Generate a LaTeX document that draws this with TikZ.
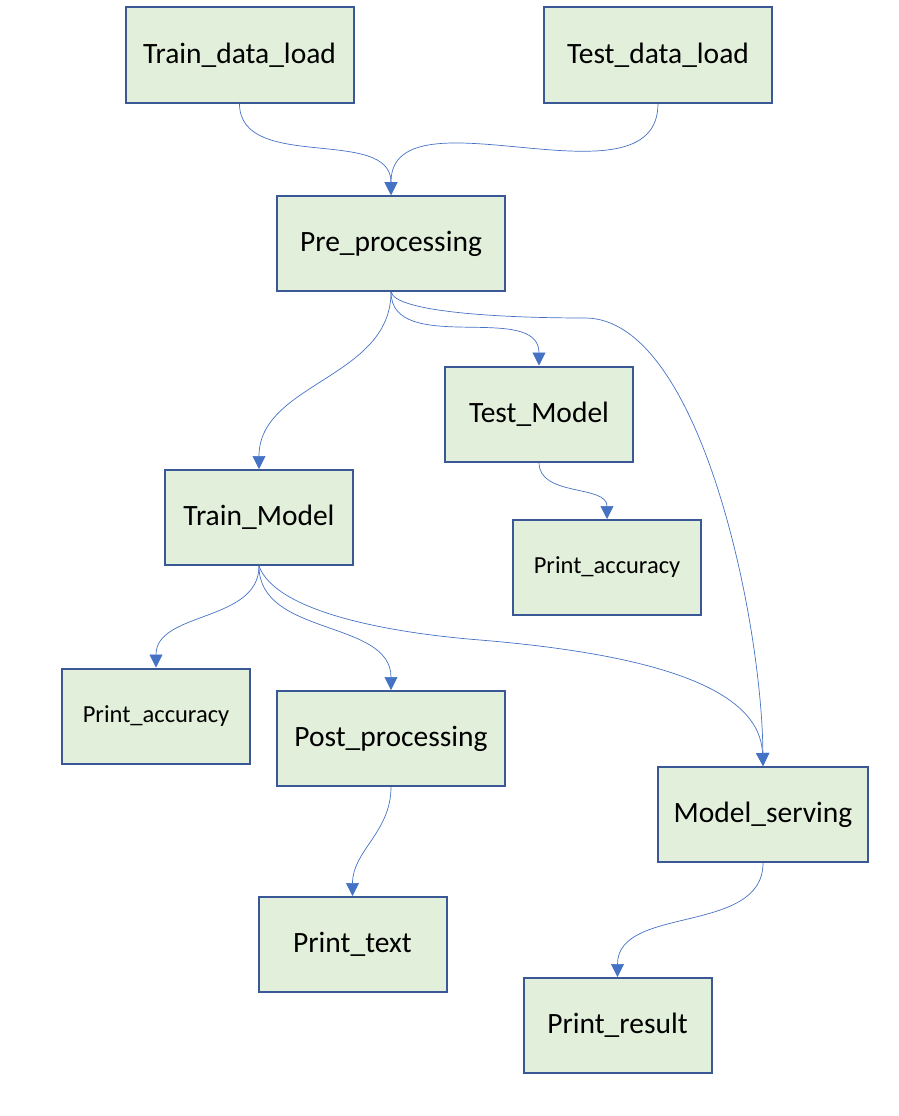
\documentclass[tikz,border=0pt]{standalone}
\usepackage{fontspec}
\setmainfont{Carlito}
\usetikzlibrary{arrows.meta}
\definecolor{boxfill}{HTML}{E2EFDA}
\definecolor{boxline}{HTML}{3A5796}
\definecolor{edgeline}{HTML}{4472C4}
\tikzset{
  box/.style={draw=boxline, line width=2pt, fill=boxfill, minimum width=#1, minimum height=95pt, inner sep=0pt, font=\fontsize{29.5}{34}\selectfont},
  box/.default=188pt,
  smallbox/.style={box=188pt, font=\fontsize{24.5}{29}\selectfont},
  conn/.style={draw=edgeline, line width=0.7pt, -{Triangle[width=13pt,length=13pt]}}
}
\begin{document}
\begin{tikzpicture}[x=1pt,y=-1pt]
\useasboundingbox (0,0) rectangle (898,1116);
\node[box=228pt] (trd) at (239.5,55) {Train\_data\_load};
\node[box=228pt] (ted) at (658,55) {Test\_data\_load};
\node[box=228pt] (pre) at (391,243.5) {Pre\_processing};
\node[box] (tem) at (539,414) {Test\_Model};
\node[box] (trm) at (259,517.5) {Train\_Model};
\node[smallbox] (pa1) at (607,567.5) {Print\_accuracy};
\node[smallbox] (pa2) at (156,716) {Print\_accuracy};
\node[box=228pt] (post) at (391,738.5) {Post\_processing};
\node[box=210pt] (ms) at (763,814.5) {Model\_serving};
\node[box] (pt) at (352.5,944.5) {Print\_text};
\node[box] (pr) at (617.5,1025.5) {Print\_result};

\draw[conn] (trd.south) to[out=-90,in=90] (pre.north);
\draw[conn] (ted.south) to[out=-90,in=90] (pre.north);
\draw[conn] (pre.south) to[out=-90,in=90] (trm.north);
\draw[conn] (pre.south) to[out=-90,in=90] (tem.north);
\draw[conn] (pre.south) .. controls (396,312) and (500,318) .. (585,318) .. controls (700,318) and (762,620) .. (ms.north);
\draw[conn] (tem.south) to[out=-90,in=90] (pa1.north);
\draw[conn] (trm.south) to[out=-90,in=90] (pa2.north);
\draw[conn] (trm.south) to[out=-90,in=90] (post.north);
\draw[conn] (trm.south) .. controls (275,610) and (380,632) .. (480,640) .. controls (660,655) and (760,690) .. (ms.north);
\draw[conn] (post.south) to[out=-90,in=90] (pt.north);
\draw[conn] (ms.south) to[out=-90,in=90] (pr.north);
\end{tikzpicture}
\end{document}
